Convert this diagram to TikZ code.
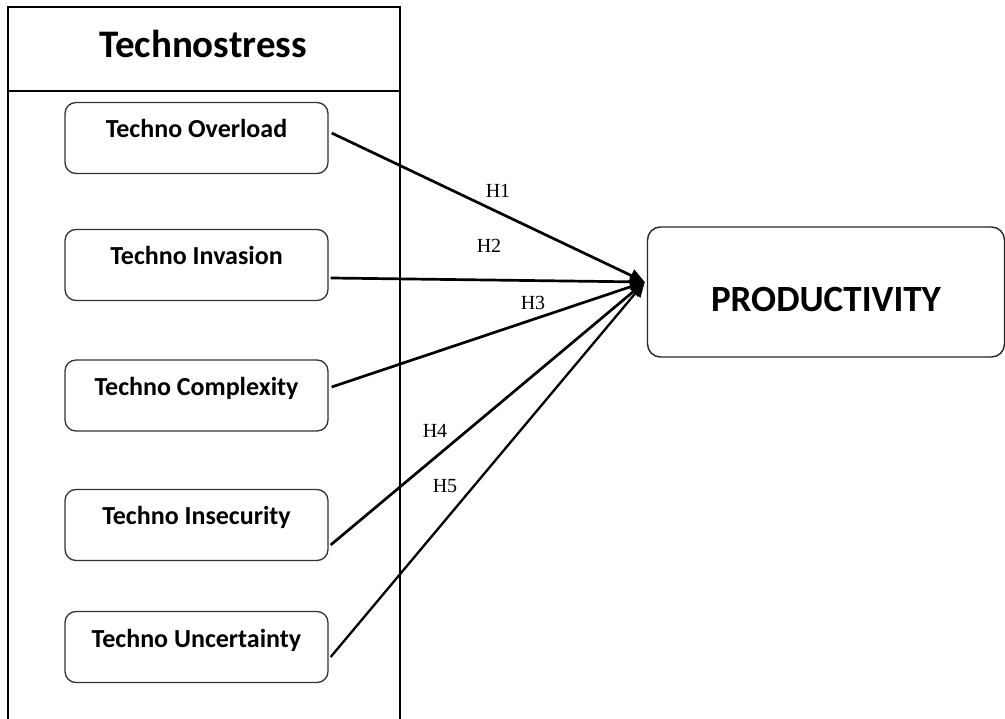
\documentclass[tikz,border=0pt]{standalone}
\usepackage{fontspec}
\setmainfont{Carlito}
\newfontfamily\hfont{Liberation Serif}
\usetikzlibrary{arrows.meta}
\begin{document}
\begin{tikzpicture}[x=1pt,y=-1pt,
  frame/.style={line width=1.5pt,draw=black},
  tbox/.style={draw=black!80,line width=1.3pt,rounded corners=11pt,minimum width=263pt,minimum height=71pt,inner sep=0pt,
    font=\fontsize{26}{30}\selectfont\bfseries,text height=10pt,text depth=10pt},
  pbox/.style={draw=black!85,line width=1.4pt,rounded corners=13pt,minimum width=357pt,minimum height=130pt,inner sep=0pt,
    font=\fontsize{37}{42}\selectfont\bfseries,text height=45pt,text depth=5pt},
  hyp/.style={line width=2.7pt,-{Triangle[length=15pt,width=13pt]}},
  hlab/.style={font=\hfont\fontsize{20}{22}\selectfont,anchor=base,inner sep=0pt}]
\useasboundingbox (0,0) rectangle (1005,719);
% outer frame
\draw[frame] (8,719) -- (8,7) -- (400,7) -- (400,719);
\draw[frame] (8,91) -- (400,91);
\node[anchor=base,inner sep=0pt,font=\fontsize{39}{44}\selectfont\bfseries] (title) at (203,58) {Technostress};
% boxes
\node[tbox] (b1) at (196.5,138) {Techno Overload};
\node[tbox] (b2) at (196.5,265) {Techno Invasion};
\node[tbox] (b3) at (196.5,395.5) {Techno Complexity};
\node[tbox] (b4) at (196.5,525) {Techno Insecurity};
\node[tbox] (b5) at (196.5,647) {Techno Uncertainty};
\node[pbox] (p) at (826,292) {PRODUCTIVITY};
\coordinate (tip) at ([xshift=-2pt,yshift=10pt]p.west);
% connectors
\draw[hyp] ([xshift=3pt,yshift=5pt]b1.east) -- (tip);
\draw[hyp] ([xshift=2pt,yshift=-13pt]b2.east) -- (tip);
\draw[hyp] ([xshift=3pt,yshift=8.5pt]b3.east) -- (tip);
\draw[hyp] ([xshift=2pt,yshift=-20pt]b4.east) -- (tip);
\draw[hyp,line width=2.3pt] ([xshift=2pt,yshift=-10pt]b5.east) -- (tip);
% labels
\node[hlab] (h1) at (498,198) {H1};
\node[hlab] (h2) at (489,253) {H2};
\node[hlab] (h3) at (533,310) {H3};
\node[hlab] (h4) at (435,438) {H4};
\node[hlab] (h5) at (445,493) {H5};
\end{tikzpicture}
\end{document}
